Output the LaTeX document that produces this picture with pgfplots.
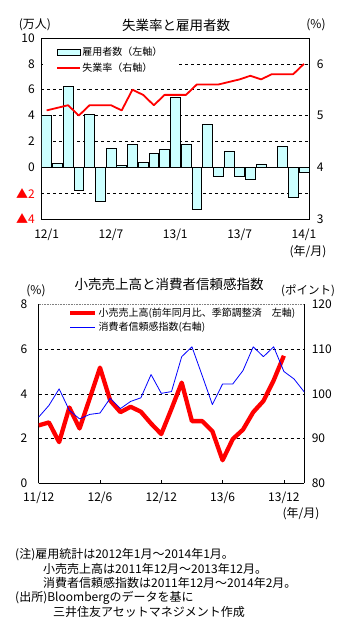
\documentclass[border=0pt]{standalone}
\usepackage{pgfplots}
\pgfplotsset{compat=1.18}
\usepackage{fontspec}
\setmainfont{Noto Sans CJK JP}
\definecolor{barfill}{HTML}{CCFFFF}
\begin{document}
\begin{tikzpicture}
\path[use as bounding box] (0,0) rectangle (360pt,-632pt);
% ---------- top chart labels
\node[font=\fontsize{13.5}{14}\selectfont] at (176pt,-25pt) {失業率と雇用者数};
\node[font=\fontsize{12}{12}\selectfont] at (35pt,-25pt) {(万人)};
\node[font=\fontsize{12}{12}\selectfont] at (316pt,-25pt) {(\%)};
\node[font=\fontsize{12}{12}\selectfont, anchor=east] at (330pt,-252pt) {(年/月)};
% ---------- top chart: bars (left axis)
\begin{axis}[
  at={(41.3pt,-219pt)}, anchor=south west,
  scale only axis, width=268pt, height=181pt,
  xmin=-0.5, xmax=24.5, ymin=-4, ymax=10,
  xtick={0,6,12,18,24}, xticklabels={12/1,12/7,13/1,13/7,14/1},
  ytick={-4,-2,0,2,4,6,8,10},
  yticklabels={{\textcolor{red}{▲4}},{\textcolor{red}{▲2}},0,2,4,6,8,10},
  ymajorgrids, major grid style={black, dashed, line width=0.6pt},
  major tick length=0pt,
  tick label style={font=\fontsize{12}{12}\selectfont},
  /pgf/number format/assume math mode=true,
  x tick label style={yshift=-6pt},
  y tick label style={xshift=-3pt},
  axis line style={black, line width=0.8pt},
  extra y ticks={0}, extra y tick labels={},
  extra y tick style={ymajorgrids=true, major grid style={solid, black, line width=0.8pt}},
]
\addplot[ybar, bar width=0.92, fill=barfill, draw=black, line width=0.6pt] coordinates {
(0,4.0) (1,0.3) (2,6.25) (3,-1.75) (4,4.12) (5,-2.65) (6,1.5) (7,0.15) (8,1.8) (9,0.4)
(10,1.1) (11,1.42) (12,5.45) (13,1.81) (14,-3.27) (15,3.36) (16,-0.67) (17,1.27) (18,-0.67) (19,-0.9)
(20,0.26) (21,0) (22,1.65) (23,-2.3) (24,-0.36)};
\end{axis}
% ---------- top chart: unemployment rate (right axis)
\begin{axis}[
  at={(41.3pt,-219pt)}, anchor=south west,
  scale only axis, width=268pt, height=181pt,
  xmin=-0.5, xmax=24.5, ymin=3, ymax=6.5,
  axis y line*=right, axis x line=none,
  ytick={3,4,5,6}, major tick length=0pt,
  tick label style={font=\fontsize{12}{12}\selectfont},
  /pgf/number format/assume math mode=true,
  y tick label style={xshift=4pt},
  axis line style={black, line width=0.8pt},
  legend style={draw=none, fill=white, at={(axis description cs:0,1)}, anchor=north west,
    xshift=1pt, yshift=-1pt, inner xsep=14pt, inner ysep=8pt,
    nodes={inner sep=0pt}, row sep=6pt, column sep=1pt,
    font=\fontsize{10}{10}\selectfont},
  legend cell align=left,
]
\addlegendimage{legend image code/.code={\draw[fill=barfill,draw=black,line width=0.6pt] (0pt,-3pt) rectangle (23pt,3pt);}}
\addlegendentry{雇用者数（左軸）}
\addplot[red, line width=1.8pt, line join=round,
  legend image code/.code={\draw[red, line width=1.8pt] (0pt,0pt) -- (23pt,0pt);}] coordinates {
(0,5.1) (1,5.15) (2,5.2) (3,5.0) (4,5.2) (5,5.2) (6,5.2) (7,5.1) (8,5.5) (9,5.4)
(10,5.2) (11,5.4) (12,5.4) (13,5.4) (14,5.6) (15,5.6) (16,5.6) (17,5.65) (18,5.7) (19,5.77)
(20,5.7) (21,5.8) (22,5.8) (23,5.8) (24,6.0)};
\addlegendentry{失業率（右軸）}
\end{axis}
% ---------- bottom chart labels
\node[font=\fontsize{13.5}{14}\selectfont] at (169pt,-284pt) {小売売上高と消費者信頼感指数};
\node[font=\fontsize{12}{12}\selectfont] at (36pt,-291pt) {(\%)};
\node[font=\fontsize{11.5}{12}\selectfont] at (308pt,-291pt) {(ポイント)};
\node[font=\fontsize{12}{12}\selectfont, anchor=east] at (323pt,-514pt) {(年/月)};
% ---------- bottom chart: retail sales (left axis)
\begin{axis}[
  at={(38.7pt,-483.3pt)}, anchor=south west,
  scale only axis, width=265.6pt, height=179pt,
  xmin=0, xmax=26, ymin=0, ymax=8,
  axis x line*=bottom, axis y line*=left,
  xtick={0,6,12,18,24}, xticklabels={11/12,12/6,12/12,13/6,13/12},
  tick align=inside, major tick length=3.5pt,
  xtick style={black, line width=0.6pt}, ytick style={draw=none},
  ytick={0,2,4,6},
  ymajorgrids, major grid style={black, dashed, line width=0.6pt},
  extra y ticks={8},
  extra y tick style={ymajorgrids=true, major grid style={densely dotted, gray, line width=0.6pt}, tick style={draw=none}},
  tick label style={font=\fontsize{12}{12}\selectfont},
  /pgf/number format/assume math mode=true,
  x tick label style={yshift=-5pt},
  y tick label style={xshift=-8pt},
  axis line style={black, line width=0.8pt},
]
\addplot[red, line width=4.3pt, line join=round] coordinates {
(0,2.59) (1,2.72) (2,1.84) (3,3.39) (4,2.45) (5,3.8) (6,5.17) (7,3.7) (8,3.18) (9,3.42)
(10,3.2) (11,2.67) (12,2.2) (13,3.33) (14,4.5) (15,2.78) (16,2.78) (17,2.33) (18,1.03) (19,1.98)
(20,2.4) (21,3.18) (22,3.68) (23,4.6) (24,5.7)};
\end{axis}
% ---------- bottom chart: consumer confidence (right axis)
\begin{axis}[
  at={(38.7pt,-483.3pt)}, anchor=south west,
  scale only axis, width=265.6pt, height=179pt,
  xmin=0, xmax=26, ymin=80, ymax=120,
  axis y line*=right, axis x line=none,
  ytick={80,90,100,110,120}, major tick length=0pt,
  tick label style={font=\fontsize{12}{12}\selectfont},
  /pgf/number format/assume math mode=true,
  y tick label style={xshift=4pt},
  axis line style={black, line width=0.8pt},
  legend style={draw=none, fill=none, at={(axis description cs:0,1)}, anchor=north west,
    xshift=29.3pt, yshift=-3.5pt, inner sep=0pt,
    nodes={inner sep=0pt}, row sep=4pt, column sep=1pt,
    font=\fontsize{10}{10}\selectfont},
  legend cell align=left,
]
\addlegendimage{legend image code/.code={\draw[red, line width=4.3pt] (0pt,0pt) -- (25pt,0pt);}}
\addlegendentry{小売売上高(前年同月比、季節調整済　左軸)}
\addplot[blue, line width=0.8pt, line join=round,
  legend image code/.code={\draw[blue, line width=0.8pt] (0pt,0pt) -- (25pt,0pt);}] coordinates {
(0,94.8) (1,97.4) (2,101.1) (3,96.3) (4,94.4) (5,95.4) (6,95.7) (7,99.0) (8,96.7) (9,98.3)
(10,99.1) (11,104.3) (12,100.1) (13,100.5) (14,108.3) (15,110.5) (16,104.1) (17,97.6) (18,102.2) (19,102.2)
(20,105.2) (21,110.5) (22,108.3) (23,110.5) (24,105.0) (25,103.3) (26,100.4)};
\addlegendentry{消費者信頼感指数(右軸)}
\end{axis}
% ---------- notes
\begin{scope}[every node/.style={anchor=west, inner sep=0pt, font=\fontsize{12}{12}\selectfont}]
\node at (15pt,-555pt) {(注)雇用統計は2012年1月～2014年1月。};
\node at (43pt,-569pt) {小売売上高は2011年12月～2013年12月。};
\node at (43pt,-583.3pt) {消費者信頼感指数は2011年12月～2014年2月。};
\node at (15pt,-597.5pt) {(出所)Bloombergのデータを基に};
\node at (53pt,-611.7pt) {三井住友アセットマネジメント作成};
\end{scope}
\end{tikzpicture}
\end{document}
